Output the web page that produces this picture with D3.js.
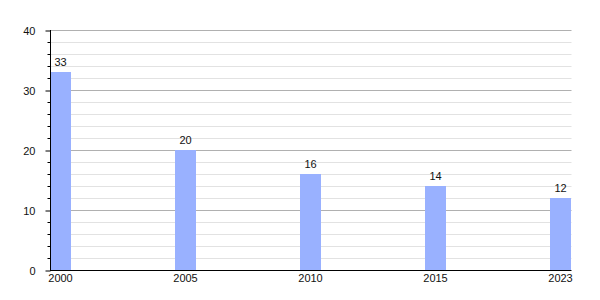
<!DOCTYPE html>
<html><head><meta charset="utf-8">
<script src="https://cdn.jsdelivr.net/npm/d3@7"></script>
<style>body{margin:0;background:#fff}svg{display:block}text{font-family:"Liberation Sans",Arial,sans-serif}</style>
</head><body><div id="c"></div>
<script>
const categories = ["2000","2005","2010","2015","2023"];
const values = [33,20,16,14,12];
const yTicks = [0,10,20,30,40];
const yMinorTicks = d3.range(0,41,2);

const W=600,H=300;
const svg=d3.select("#c").append("svg").attr("width",W).attr("height",H);
const x=d3.scaleBand().domain(categories).range([50,571]).paddingInner(0.832).paddingOuter(0);
const y=d3.scaleLinear().domain([0,40]).range([270,30]);

// minor gridlines
svg.append("g").selectAll("line").data(yMinorTicks.filter(d=>d%10!==0)).join("line")
  .attr("x1",50).attr("x2",571.5).attr("y1",d=>y(d)+0.5).attr("y2",d=>y(d)+0.5)
  .attr("stroke","#e2e2e2").attr("stroke-width",1);
// major gridlines
svg.append("g").selectAll("line").data(yTicks.filter(d=>d>0)).join("line")
  .attr("x1",50).attr("x2",571.5).attr("y1",d=>y(d)+0.5).attr("y2",d=>y(d)+0.5)
  .attr("stroke","#b0b0b0").attr("stroke-width",1);

// bars
svg.append("g").selectAll("rect").data(values).join("rect")
  .attr("x",(d,i)=>x(categories[i])).attr("width",x.bandwidth())
  .attr("y",d=>y(d)).attr("height",d=>y(0)-y(d)).attr("fill","#99b1ff");

// value labels
svg.append("g").selectAll("text").data(values).join("text")
  .attr("x",(d,i)=>x(categories[i])+x.bandwidth()/2).attr("y",d=>y(d)-6)
  .attr("text-anchor","middle").attr("font-size",11).attr("fill","#111").text(d=>d);

// left axis minor ticks
const ax=svg.append("g").attr("transform","translate(50.5,0)");
ax.selectAll("line.minor").data(yMinorTicks.filter(d=>d%10!==0)).join("line").attr("class","minor")
  .attr("x1",-3).attr("x2",0).attr("y1",d=>y(d)+0.5).attr("y2",d=>y(d)+0.5).attr("stroke","#000");
const yAxis=d3.axisLeft(y).tickValues(yTicks).tickSize(5).tickPadding(10).tickFormat(d3.format("d"));
ax.call(yAxis);
ax.select(".domain").attr("d","M0,30V270.5");
ax.selectAll(".tick text").attr("font-size",11).attr("fill","#111").attr("dy","0.42em").attr("font-family","Liberation Sans, Arial, sans-serif");
ax.selectAll(".tick line").attr("transform","translate(0,0.5)");

// bottom axis
const bx=svg.append("g").attr("transform","translate(0,270.5)");
bx.call(d3.axisBottom(x).tickSize(0).tickPadding(4));
bx.select(".domain").attr("d","M50,0H571.5").attr("stroke","#000");
bx.selectAll(".tick text").attr("font-size",11).attr("fill","#111").attr("font-family","Liberation Sans, Arial, sans-serif");
</script></body></html>
